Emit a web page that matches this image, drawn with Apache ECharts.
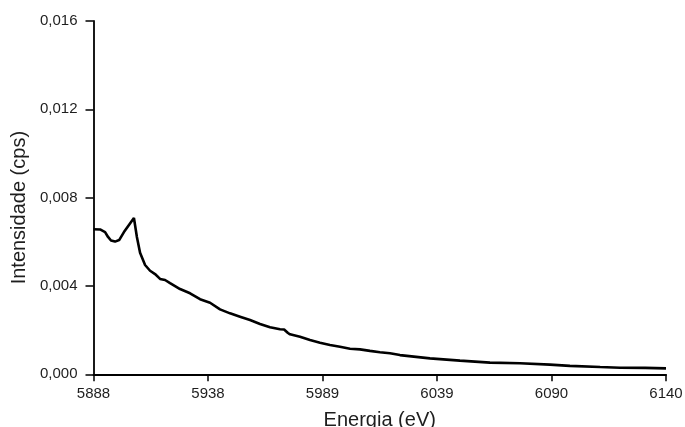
<!DOCTYPE html>
<html>
<head>
<meta charset="utf-8">
<script src="https://cdn.jsdelivr.net/npm/echarts@6/dist/echarts.min.js"></script>
<style>
html,body{margin:0;padding:0;background:#fff;}
#chart{width:685px;height:427px;}
</style>
</head>
<body>
<div id="chart"></div>
<script>
// Energy (eV) values
const energies = [5888, 5890.9, 5893.1, 5894.4, 5895.7, 5897.5, 5899.3, 5901.4, 5903.6, 5905.8,
  5907.1, 5908.5, 5910.7, 5912.9, 5915.1, 5917.3, 5919.5, 5921.7, 5926.1, 5930.5,
  5934.9, 5939.3, 5943.7, 5948.1, 5952.5, 5956.9, 5961.3, 5965.7, 5970.1, 5971.9,
  5973.6, 5974.5, 5978.9, 5983.3, 5987.7, 5992.1, 5996.5, 6000.9, 6005.3, 6009.7,
  6014.1, 6018.5, 6022.9, 6036.1, 6049.3, 6062.5, 6075.7, 6088.9, 6097.7, 6111.0,
  6119.8, 6130.8, 6140];
// Intensity (cps)
const intensities = [0.00657, 0.00656, 0.00644, 0.00622, 0.00606, 0.00601, 0.00608, 0.00644, 0.00676, 0.00708,
  0.00622, 0.00550, 0.00495, 0.00469, 0.00454, 0.00432, 0.00427, 0.00413, 0.00386, 0.00367,
  0.00340, 0.00324, 0.00294, 0.00276, 0.00261, 0.00246, 0.00228, 0.00213, 0.00204, 0.00203,
  0.00187, 0.00181, 0.00170, 0.00155, 0.00143, 0.00133, 0.00125, 0.00116, 0.00113, 0.00106,
  0.00100, 0.00095, 0.00087, 0.00072, 0.00062, 0.00053, 0.00050, 0.00044, 0.00038, 0.00033,
  0.00030, 0.00029, 0.00027];
// Axis settings
const xStart = 5888;
const xEnd = 6140;
const xTickCount = 5;
const yTicks = [0, 0.004, 0.008, 0.012, 0.016];

const chart = echarts.init(document.getElementById('chart'));
const font = '"Liberation Sans", Arial, sans-serif';
const txt = '#1e1e1e';
const span = xEnd - xStart;
chart.setOption({
  animation: false,
  backgroundColor: '#fff',
  grid: {left: 93.5, right: 19, top: 21, bottom: 52.7, containLabel: false, outerBoundsMode: 'none'},
  xAxis: {
    type: 'value',
    min: 0, max: span, interval: span / xTickCount,
    name: 'Energia (eV)', nameLocation: 'middle', nameGap: 36,
    nameTextStyle: {fontFamily: font, fontSize: 20, color: txt},
    axisLine: {show: true, onZero: false, lineStyle: {color: '#000', width: 1.8}},
    axisTick: {show: true, inside: false, length: 7, lineStyle: {color: '#000', width: 1.5}},
    axisLabel: {fontFamily: font, fontSize: 15, color: txt, margin: 12,
      showMinLabel: true, showMaxLabel: true,
      formatter: v => String(Math.round(v + xStart))},
    splitLine: {show: false}
  },
  yAxis: {
    type: 'value',
    min: yTicks[0], max: yTicks[yTicks.length - 1], interval: yTicks[1] - yTicks[0],
    name: 'Intensidade (cps)', nameLocation: 'middle', nameGap: 64, nameRotate: 90,
    nameTextStyle: {fontFamily: font, fontSize: 20, color: txt, padding: [0, 20, 0, 0]},
    axisLine: {show: true, lineStyle: {color: '#000', width: 1.8}},
    axisTick: {show: true, inside: false, length: 8, lineStyle: {color: '#000', width: 1.5}},
    axisLabel: {fontFamily: font, fontSize: 15, color: txt, margin: 16,
      formatter: v => v.toFixed(3).replace('.', ',')},
    splitLine: {show: false}
  },
  series: [{
    type: 'line',
    data: energies.map((e, i) => [e - xStart, intensities[i]]),
    showSymbol: false,
    smooth: false,
    lineStyle: {color: '#000', width: 2.6},
    clip: true
  }]
});
</script>
</body>
</html>
